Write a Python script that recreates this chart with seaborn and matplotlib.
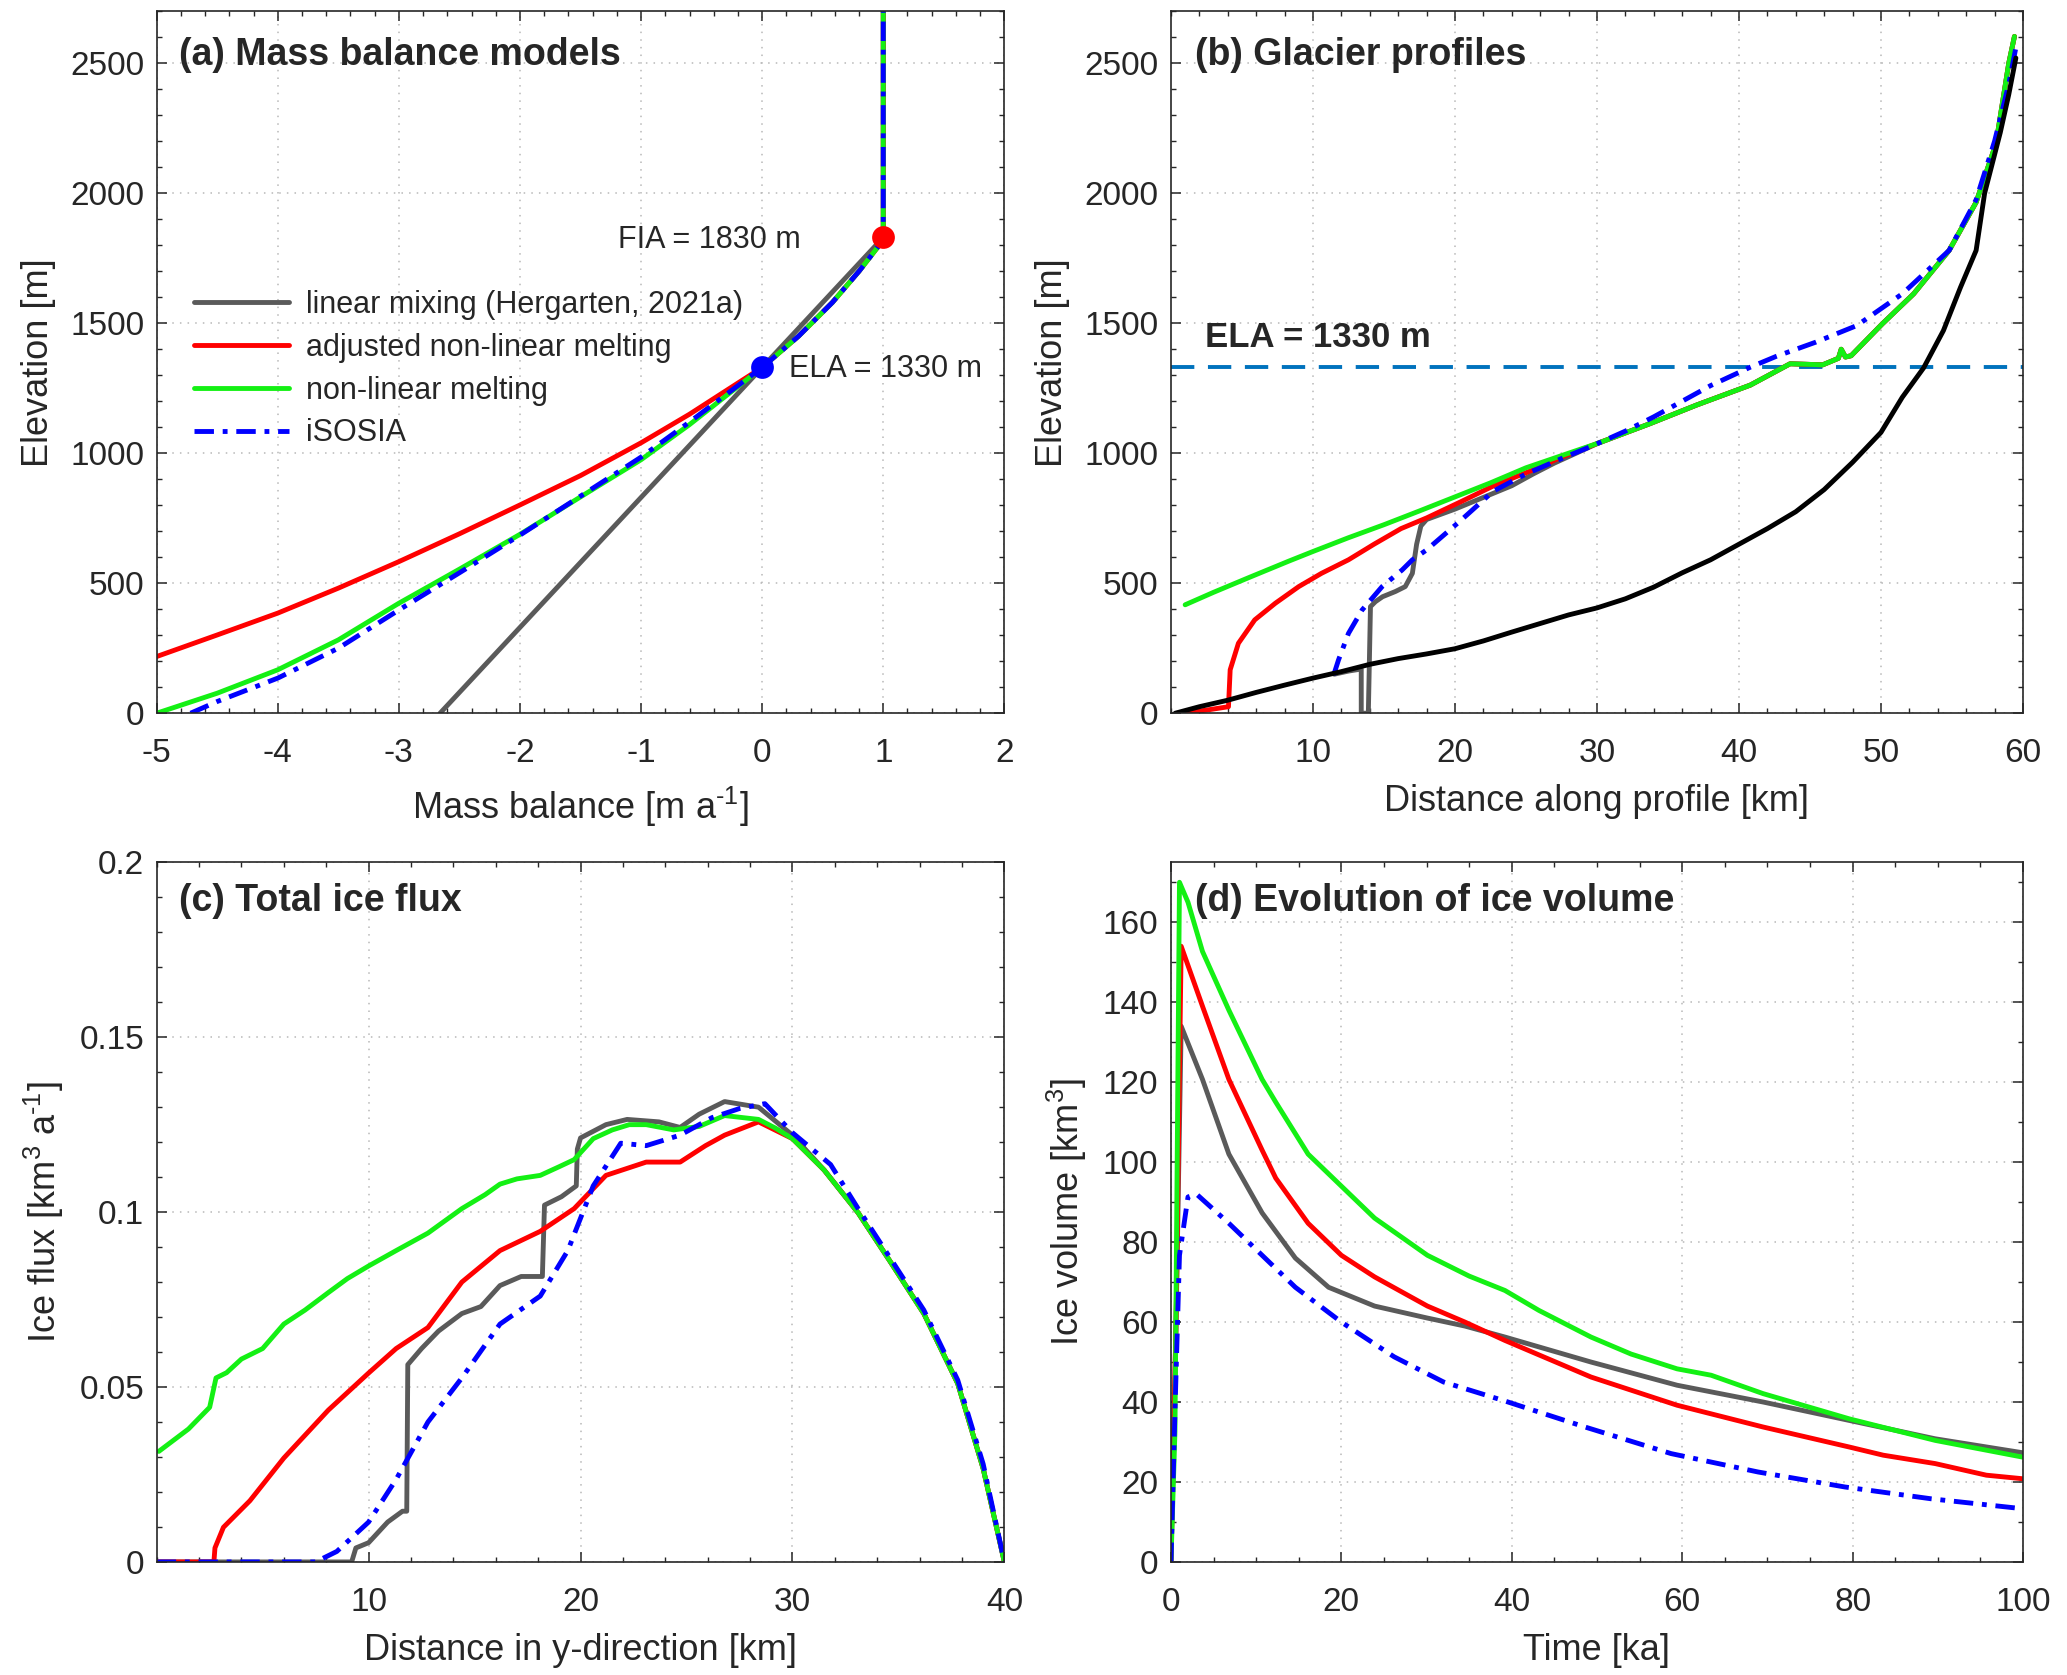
import matplotlib
matplotlib.use("Agg")
import matplotlib.pyplot as plt
from matplotlib.ticker import MultipleLocator, FormatStrFormatter
import seaborn as sns

# ---------------- (a) mass balance models: mass balance [m/a] vs elevation [m]
mb_lin = [-2.66, 1.0, 1.0]
z_lin = [0, 1830, 2700]

# accumulation branch, shared by the three non-linear curves
mb_acc = [0.3, 0.58, 0.8, 0.95, 1.0, 1.0]
z_acc = [1450, 1580, 1700, 1790, 1830, 2700]

mb_adj = [-5.0, -4.5, -4.0, -3.5, -3.0, -2.5, -2.0, -1.5, -1.0, -0.6, -0.3, 0.0] + mb_acc
z_adj = [218, 301, 385, 481, 583, 690, 801, 914, 1040, 1150, 1240, 1330] + z_acc

mb_nl = [-5.0, -4.5, -4.0, -3.5, -3.0, -2.5, -2.0, -1.5, -1.0, -0.6, -0.3, 0.0] + mb_acc
z_nl = [0, 77, 167, 282, 423, 554, 688, 832, 975, 1110, 1220, 1330] + z_acc

mb_iso = [-4.72, -4.5, -4.0, -3.5, -3.0, -2.5, -2.0, -1.5, -1.0, -0.6, -0.3, 0.0] + mb_acc
z_iso = [0, 45, 135, 250, 397, 540, 685, 835, 985, 1120, 1225, 1330] + z_acc

ela = 1330
fia = 1830

# ---------------- (b) glacier profiles: distance [km] vs elevation [m]
bed_x = [0.3, 2, 4, 6, 8, 10, 12, 14, 16, 18, 20, 22, 24, 26, 28, 30, 32, 34, 36, 38,
         40, 42, 44, 46, 48, 50, 51.5, 53, 54.4, 55.6, 56.7, 57.3, 58.4, 59, 59.5]
bed_z = [0, 25, 50, 80, 108, 135, 160, 188, 210, 228, 248, 278, 312, 345, 378, 405, 440,
         485, 540, 590, 650, 710, 775, 860, 965, 1080, 1215, 1328, 1472, 1638, 1780, 2000,
         2233, 2380, 2520]

# upper part, common to red / green / gray
top_x = [30.1, 33.7, 37, 40.8, 43.6, 45.9, 47.0, 47.2, 47.5, 47.9, 50.1, 52.3, 54.8,
         56.7, 58.1, 59.0, 59.4]
top_z = [1039, 1113, 1185, 1262, 1344, 1340, 1365, 1400, 1370, 1375, 1498, 1613, 1780,
         1965, 2191, 2500, 2603]

lin_x = [11.5, 12.5, 13.4, 13.4, 13.9, 14.05, 14.4, 14.9, 15.8, 16.5, 17.0, 17.3, 17.6,
         18.0, 20, 22, 24, 25.5, 27] + top_x
lin_z = [150, 162, 170, 0, 0, 410, 429, 448, 468, 487, 538, 650, 720, 745, 785, 830, 875,
         920, 962] + top_z

adj_x = [1.0, 2.5, 4.05, 4.17, 4.75, 5.9, 7.35, 9.0, 10.6, 12.5, 14.3, 16.2, 18.0, 20.4,
         22.7, 25.5, 27.5] + top_x
adj_z = [0, 12, 25, 167, 269, 359, 423, 487, 538, 590, 650, 710, 751, 813, 874, 936,
         985] + top_z

nl_x = [1.0, 3.0, 5.5, 8.3, 10, 12.5, 15, 17.5, 20, 22.5, 25, 28] + top_x
nl_z = [417, 465, 522, 585, 622, 675, 725, 778, 832, 886, 944, 1000] + top_z

iso_x = [11.46, 11.8, 12.5, 13.46, 14.87, 16.28, 17.0, 18.0, 20.4, 22.7, 25.0, 27.4, 29.7,
         32, 34, 36, 38, 40.8, 42.6, 45.4, 48.3, 51.5, 54.8, 56.7, 58.0, 59.0, 59.5]
iso_z = [147, 205, 307, 397, 487, 551, 590, 628, 741, 854, 920, 977, 1029, 1085, 1140,
         1200, 1260, 1331, 1372, 1427, 1491, 1613, 1780, 1975, 2200, 2420, 2560]

# ---------------- (c) total ice flux [km3/a] vs distance in y [km]
flux_tail_x = [31.5, 33.1, 34.6, 36.2, 37.8, 39.0, 40.0]
flux_tail_y = [0.112, 0.0998, 0.086, 0.071, 0.051, 0.0267, 0.0]

fl_nl_x = [0.1, 1.5, 2.5, 2.8, 3.3, 4, 5, 6, 7, 8.1, 9, 10, 11.3, 12.8, 14.4, 15.5, 16.2,
           17, 18.1, 19, 19.7, 20.6, 21.5, 22.3, 23.1, 24.4, 25.6, 26.8, 28.4, 29.2,
           30] + flux_tail_x
fl_nl_y = [0.0316, 0.038, 0.0442, 0.0526, 0.0541, 0.058, 0.061, 0.068, 0.072, 0.077,
           0.081, 0.0846, 0.089, 0.094, 0.101, 0.105, 0.108, 0.1095, 0.1105, 0.113, 0.115,
           0.121, 0.1235, 0.125, 0.125, 0.1235, 0.1245, 0.1276, 0.1265, 0.124,
           0.121] + flux_tail_y

fl_adj_x = [0, 2.7, 2.75, 3.15, 4.4, 6.0, 8.1, 10, 11.3, 12.8, 14.4, 16.2, 18.1, 19.7,
            21.2, 23.1, 24.7, 25.9, 26.8, 28.4, 30] + flux_tail_x
fl_adj_y = [0, 0, 0.004, 0.0099, 0.0175, 0.0297, 0.0434, 0.054, 0.061, 0.067, 0.080,
            0.089, 0.0945, 0.101, 0.1105, 0.1143, 0.1143, 0.119, 0.122, 0.1258,
            0.121] + flux_tail_y

fl_lin_x = [0, 9.2, 9.4, 10.0, 10.9, 11.6, 11.8, 11.85, 12.5, 13.3, 14.4, 15.3, 16.2,
            17.2, 18.2, 18.3, 19.1, 19.8, 19.85, 20, 21.2, 22.2, 23.7, 24.7, 25.6, 26.8,
            28.4, 30] + flux_tail_x
fl_lin_y = [0, 0, 0.004, 0.0055, 0.0114, 0.0145, 0.0145, 0.0564, 0.061, 0.066, 0.071,
            0.073, 0.079, 0.0816, 0.0816, 0.102, 0.1044, 0.1075, 0.118, 0.1212, 0.125,
            0.1265, 0.1258, 0.1242, 0.128, 0.1316, 0.130, 0.122] + flux_tail_y

fl_iso_x = [0, 7.5, 8.5, 10, 11.3, 12.8, 14.4, 16.2, 18.1, 19.4, 20.6, 21.9, 23.1, 24.7,
            26.2, 27.5, 28.7, 30, 31.8, 33.1, 34.6, 36.2, 37.8, 39, 40]
fl_iso_y = [0, 0, 0.003, 0.0114, 0.0236, 0.040, 0.0526, 0.068, 0.076, 0.089, 0.1075,
            0.1197, 0.119, 0.122, 0.127, 0.1296, 0.131, 0.1227, 0.1136, 0.101, 0.087,
            0.072, 0.052, 0.028, 0]

# ---------------- (d) ice volume [km3] vs time [ka]
t_nl = [0, 0.47, 1.0, 2, 3.7, 6.8, 10.7, 12.3, 16.1, 20, 23.9, 30.1, 35, 39.2, 43.2, 49.3,
        54, 59.4, 63.4, 69.5, 79.6, 89.7, 100]
v_nl = [0, 32.7, 170, 165, 152.7, 138, 120.7, 115, 102, 94, 86, 76.7, 71.5, 67.9, 62.9,
        56.25, 52, 48.3, 46.7, 42.1, 35.8, 30.4, 26.2]

t_adj = [0, 0.6, 1.2, 3.7, 6.8, 10.7, 12.3, 16.1, 20, 23.9, 30.1, 34.5, 39.2, 49.3, 59.4,
         69.5, 79.6, 83.6, 89.7, 95.7, 100]
v_adj = [0, 60, 154, 139, 120.7, 103, 96, 84.7, 76.7, 71.3, 64, 60, 55.4, 46.25, 39.2,
         33.75, 28.75, 26.7, 24.6, 21.7, 20.8]

t_lin = [0, 0.6, 1.2, 3.7, 6.8, 10.7, 14.6, 18.5, 23.9, 30.1, 34.5, 39.2, 49.3, 59.4,
         69.5, 79.6, 89.7, 100]
v_lin = [0, 60, 134, 120.7, 102, 87.3, 76, 68.7, 64, 61, 59, 56.25, 50, 44.2, 40, 35.4,
         30.8, 27.3]

t_iso = [0, 0.5, 1, 2, 3, 6.8, 10.7, 14.6, 20, 26.2, 32, 39.2, 48.6, 58.7, 68.9, 79.1,
         89.2, 100]
v_iso = [0, 40, 76.7, 91.3, 92, 84.7, 76.7, 68.7, 60, 51.3, 45, 40.25, 33.75, 27.1, 22.5,
         18.75, 15.8, 13.3]

# ---------------- styling
sns.set_theme(style="ticks")
plt.rcParams["font.family"] = ["Liberation Sans", "DejaVu Sans"]
plt.rcParams["mathtext.fontset"] = "custom"
plt.rcParams["mathtext.rm"] = "Liberation Sans"
plt.rcParams["mathtext.it"] = "Liberation Sans:italic"
plt.rcParams["mathtext.bf"] = "Liberation Sans:bold"
plt.rcParams["axes.unicode_minus"] = False

C_LIN = "#5a5a5a"
C_ADJ = "#ff0000"
C_NL = "#14f014"
C_ISO = "#0000ff"
C_ELA = "#0072bd"
LW = 3.5
DASHDOT = (0, (4.0, 1.8, 1.0, 1.8))
TICK = 24
LAB = 26
TITLE = 27

fig = plt.figure(figsize=(20.67, 16.75), dpi=100)
ax_a = fig.add_axes([0.0758, 0.5742, 0.4101, 0.4191])
ax_b = fig.add_axes([0.5665, 0.5742, 0.4122, 0.4191])
ax_c = fig.add_axes([0.0758, 0.0675, 0.4101, 0.4177])
ax_d = fig.add_axes([0.5665, 0.0675, 0.4122, 0.4177])


def line(ax, x, y, color, ls="-", label=None, lw=LW):
    sns.lineplot(x=x, y=y, ax=ax, color=color, linestyle=ls, lw=lw, sort=False,
                 estimator=None, label=label, legend=False)


def style(ax, xmaj, xmin, ymaj, ymin):
    ax.xaxis.set_major_locator(MultipleLocator(xmaj))
    ax.xaxis.set_minor_locator(MultipleLocator(xmin))
    ax.yaxis.set_major_locator(MultipleLocator(ymaj))
    ax.yaxis.set_minor_locator(MultipleLocator(ymin))
    ax.tick_params(which="both", direction="in", top=True, right=True,
                   labelsize=TICK, colors="#262626")
    ax.tick_params(which="major", length=7, width=1.1)
    ax.tick_params(which="minor", length=3.5, width=1.0)
    ax.tick_params(axis="x", which="major", pad=18)
    ax.tick_params(axis="y", which="major", pad=9)
    ax.grid(True, which="major", linestyle=(0, (1, 4)), color="#b8b8b8", lw=1.1)
    for s in ax.spines.values():
        s.set_visible(True)
        s.set_linewidth(1.2)
        s.set_color("#262626")


# (a)
line(ax_a, mb_lin, z_lin, C_LIN, label="linear mixing (Hergarten, 2021a)")
line(ax_a, mb_adj, z_adj, C_ADJ, label="adjusted non-linear melting")
line(ax_a, mb_nl, z_nl, C_NL, label="non-linear melting")
line(ax_a, mb_iso, z_iso, C_ISO, ls=DASHDOT, label="iSOSIA")
sns.scatterplot(x=[0], y=[ela], ax=ax_a, color=C_ISO, s=230, edgecolor=C_ISO, zorder=5)
sns.scatterplot(x=[1], y=[fia], ax=ax_a, color=C_ADJ, s=230, edgecolor=C_ADJ, zorder=5)
ax_a.text(0.32, fia - 10, f"FIA = {fia} m", ha="right", va="center", fontsize=22)
ax_a.text(0.22, ela - 5, f"ELA = {ela} m", ha="left", va="center", fontsize=22)
ax_a.set_xlim(-5, 2)
ax_a.set_ylim(0, 2700)
style(ax_a, 1, 0.2, 500, 100)
ax_a.set_xlabel(r"Mass balance [m a$^{\text{-1}}$]", fontsize=LAB, labelpad=11)
ax_a.set_ylabel("Elevation [m]", fontsize=LAB, labelpad=10)
ax_a.legend(loc="center left", bbox_to_anchor=(0.03, 0.49), frameon=False,
            fontsize=22, handlelength=3.1, handletextpad=0.55, labelspacing=0.42,
            borderaxespad=0)
ax_a.text(0.026, 0.937, "(a) Mass balance models", transform=ax_a.transAxes,
          fontsize=TITLE, fontweight="bold", va="center")

# (b)
ax_b.axhline(ela, color=C_ELA, lw=2.8, linestyle=(0, (6, 3.5)), zorder=1)
line(ax_b, lin_x, lin_z, C_LIN)
line(ax_b, adj_x, adj_z, C_ADJ)
line(ax_b, nl_x, nl_z, C_NL)
line(ax_b, iso_x, iso_z, C_ISO, ls=DASHDOT)
line(ax_b, bed_x, bed_z, "black")
ax_b.text(2.4, 1445, f"ELA = {ela} m", ha="left", va="center", fontsize=25,
          fontweight="bold")
ax_b.set_xlim(0, 60)
ax_b.set_ylim(0, 2700)
style(ax_b, 10, 2, 500, 100)
ax_b.set_xticks([10, 20, 30, 40, 50, 60])
ax_b.set_xlabel("Distance along profile [km]", fontsize=LAB, labelpad=11)
ax_b.set_ylabel("Elevation [m]", fontsize=LAB, labelpad=10)
ax_b.text(0.028, 0.937, "(b) Glacier profiles", transform=ax_b.transAxes,
          fontsize=TITLE, fontweight="bold", va="center")

# (c)
line(ax_c, fl_lin_x, fl_lin_y, C_LIN)
line(ax_c, fl_adj_x, fl_adj_y, C_ADJ)
line(ax_c, fl_nl_x, fl_nl_y, C_NL)
line(ax_c, fl_iso_x, fl_iso_y, C_ISO, ls=DASHDOT)
ax_c.set_xlim(0, 40)
ax_c.set_ylim(0, 0.2)
style(ax_c, 10, 2, 0.05, 0.01)
ax_c.set_xticks([10, 20, 30, 40])
ax_c.yaxis.set_major_formatter(FormatStrFormatter("%g"))
ax_c.set_xlabel("Distance in y-direction [km]", fontsize=LAB, labelpad=11)
ax_c.set_ylabel(r"Ice flux [km$^{3}$ a$^{\text{-1}}$]", fontsize=LAB, labelpad=10)
ax_c.text(0.026, 0.945, "(c) Total ice flux", transform=ax_c.transAxes,
          fontsize=TITLE, fontweight="bold", va="center")

# (d)
line(ax_d, t_lin, v_lin, C_LIN)
line(ax_d, t_adj, v_adj, C_ADJ)
line(ax_d, t_nl, v_nl, C_NL)
line(ax_d, t_iso, v_iso, C_ISO, ls=DASHDOT)
ax_d.set_xlim(0, 100)
ax_d.set_ylim(0, 175)
style(ax_d, 20, 5, 20, 10)
ax_d.set_xlabel("Time [ka]", fontsize=LAB, labelpad=11)
ax_d.set_ylabel("Ice volume [km$^3$]", fontsize=LAB, labelpad=10)
ax_d.text(0.028, 0.945, "(d) Evolution of ice volume", transform=ax_d.transAxes,
          fontsize=TITLE, fontweight="bold", va="center")

fig.savefig("out.png", dpi=100, facecolor="white")
